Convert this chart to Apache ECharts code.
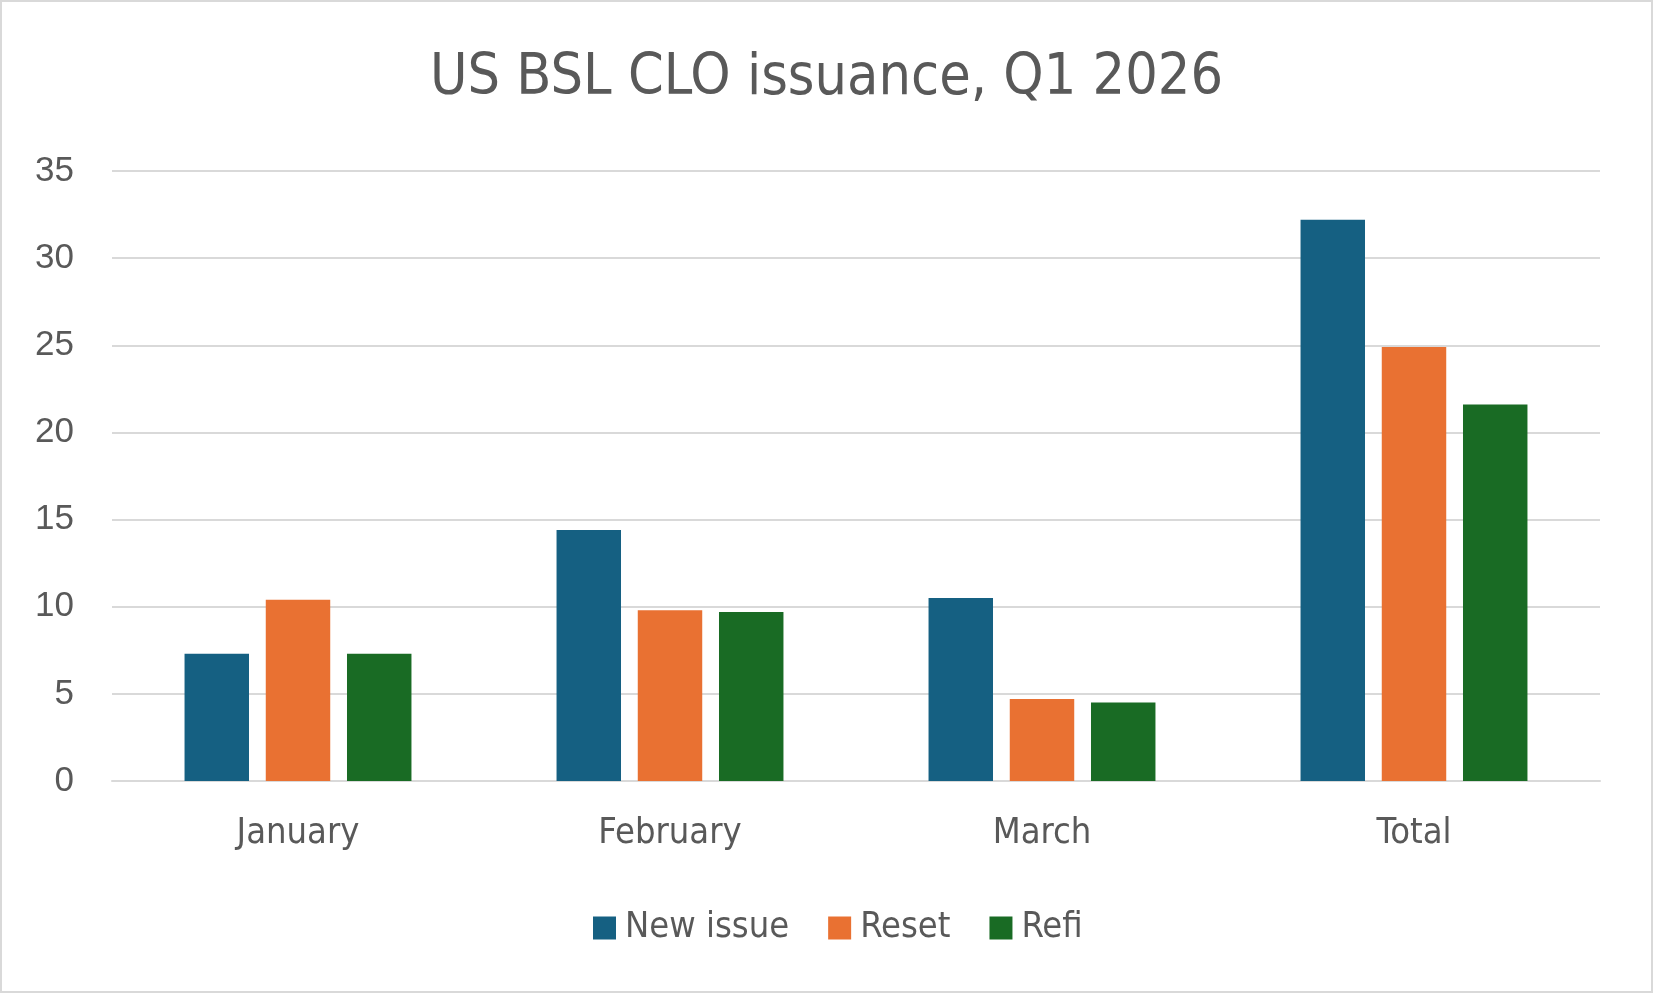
<!DOCTYPE html>
<html>
<head>
<meta charset="utf-8">
<script src="https://cdn.jsdelivr.net/npm/echarts@6/dist/echarts.min.js"></script>
<style>
html,body{margin:0;padding:0;background:#fff;}
#chart{width:1653px;height:993px;}
</style>
</head>
<body>
<div id="chart"></div>
<script>
const categories = ['January', 'February', 'March', 'Total'];
const newIssue = [7.3, 14.4, 10.5, 32.2];
const reset = [10.4, 9.8, 4.7, 24.9];
const refi = [7.3, 9.7, 4.5, 21.6];
const seriesNames = ['New issue', 'Reset', 'Refi'];
const yTicks = { min: 0, max: 35, interval: 5 };

const narrow = '"Liberation Sans Narrow", "DejaVu Sans Condensed", "Arial Narrow", sans-serif';
const regular = '"Liberation Sans", Arial, sans-serif';
const textColor = '#595959';
const gridColor = '#D9D9D9';
const colors = ['#156082', '#E97132', '#196B24'];

const chart = echarts.init(document.getElementById('chart'), null, { renderer: 'canvas' });

function barSeries(name, data, color) {
  return {
    name: name,
    type: 'bar',
    data: data,
    itemStyle: { color: color },
    barGap: '26%',
    barCategoryGap: '39%',
    emphasis: { disabled: true }
  };
}

chart.setOption({
  animation: false,
  backgroundColor: '#ffffff',
  color: colors,
  title: {
    text: 'US BSL CLO issuance, Q1 2026',
    left: 'center',
    top: 46,
    textStyle: { fontFamily: narrow, fontSize: 57, fontWeight: 'normal', color: textColor }
  },
  legend: {
    data: seriesNames,
    left: 588,
    top: 905,
    itemWidth: 23,
    itemHeight: 23,
    itemGap: 39,
    icon: 'rect',
    textStyle: { fontFamily: narrow, fontSize: 36, color: textColor, padding: [0, 0, 0, 4] }
  },
  grid: { left: 112, right: 53, top: 171, bottom: 212, containLabel: false },
  xAxis: {
    type: 'category',
    data: categories,
    axisLine: { show: true, lineStyle: { color: gridColor, width: 2 } },
    axisTick: { show: false },
    axisLabel: { fontFamily: narrow, fontSize: 36, color: textColor, margin: 35 }
  },
  yAxis: {
    type: 'value',
    min: yTicks.min,
    max: yTicks.max,
    interval: yTicks.interval,
    axisLine: { show: false },
    axisTick: { show: false },
    splitLine: { lineStyle: { color: gridColor, width: 2 } },
    axisLabel: { fontFamily: regular, fontSize: 35, color: textColor, margin: 38 }
  },
  graphic: [{
    type: 'rect',
    shape: { x: 1, y: 1, width: 1651, height: 991 },
    style: { fill: 'none', stroke: gridColor, lineWidth: 2 },
    silent: true
  }],
  series: [
    barSeries(seriesNames[0], newIssue, colors[0]),
    barSeries(seriesNames[1], reset, colors[1]),
    barSeries(seriesNames[2], refi, colors[2])
  ]
});
</script>
</body>
</html>
